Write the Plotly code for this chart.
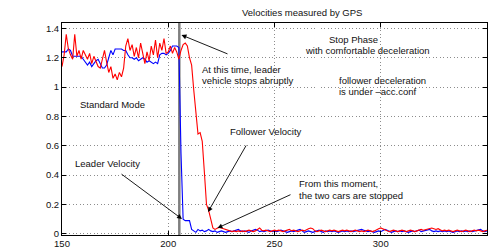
import plotly.graph_objects as go

# ---------------- data ----------------
time_s = list(range(150, 351))

leader_velocity = [
    # 150-159
    1.24, 1.24, 1.24, 1.26, 1.25, 1.21, 1.21, 1.21, 1.21, 1.21,
    # 160-169
    1.19, 1.17, 1.15, 1.17, 1.14, 1.16, 1.18, 1.19, 1.16, 1.13,
    # 170-179
    1.13, 1.15, 1.20, 1.25, 1.22, 1.26, 1.26, 1.26, 1.26, 1.25,
    # 180-189
    1.25, 1.22, 1.20, 1.20, 1.19, 1.20, 1.18, 1.19, 1.20, 1.19,
    # 190-199
    1.17, 1.18, 1.17, 1.16, 1.17, 1.16, 1.22, 1.23, 1.23, 1.22,
    # 200-210
    1.23, 1.25, 1.28, 1.28, 1.28, 1.27, 0.55, 0.10, 0.09, 0.09, 0.09,
    # 211-220
    0.03, 0.02, 0.01, 0.03, 0.02, 0.025, 0.015, 0.02, 0.03, 0.02,
    0.015, 0.02, 0.01, 0.015, 0.02, 0.015, 0.01, 0.015, 0.02, 0.015,
    0.02, 0.025, 0.03, 0.02, 0.015, 0.02, 0.015, 0.01, 0.02, 0.025,
    0.03, 0.025, 0.015, 0.02, 0.015, 0.02, 0.025, 0.02, 0.015, 0.02,
    0.015, 0.02, 0.025, 0.02, 0.015, 0.01, 0.015, 0.02, 0.015, 0.02,
    0.03, 0.03, 0.02, 0.01, 0.015, 0.02, 0.015, 0.01, 0.015, 0.02,
    0.025, 0.015, 0.01, 0.02, 0.015, 0.02, 0.015, 0.02, 0.015, 0.01,
    0.015, 0.02, 0.015, 0.02, 0.015, 0.02, 0.015, 0.02, 0.025, 0.03,
    0.03, 0.025, 0.02, 0.015, 0.02, 0.015, 0.01, 0.015, 0.02, 0.015,
    0.02, 0.03, 0.025, 0.015, 0.01, 0.015, 0.02, 0.015, 0.02, 0.015,
    0.02, 0.015, 0.01, 0.015, 0.02, 0.015, 0.02, 0.025, 0.015, 0.02,
    0.025, 0.03, 0.03, 0.02, 0.015, 0.02, 0.015, 0.02, 0.015, 0.02,
    0.015, 0.02, 0.015, 0.01, 0.015, 0.02, 0.015, 0.02, 0.015, 0.02,
    0.015, 0.02, 0.015, 0.02, 0.025, 0.03, 0.03, 0.02, 0.015, 0.02,
]

follower_velocity = [
    # 150-159
    1.14, 1.22, 1.36, 1.26, 1.22, 1.19, 1.36, 1.21, 1.25, 1.19,
    # 160-169
    1.25, 1.22, 1.19, 1.23, 1.16, 1.21, 1.17, 1.14, 1.13, 1.20,
    # 170-179
    1.25, 1.17, 1.10, 1.14, 1.06, 1.09, 1.05, 1.10, 1.07, 1.13,
    # 180-189
    1.28, 1.33, 1.25, 1.29, 1.21, 1.27, 1.20, 1.30, 1.22, 1.16,
    # 190-199
    1.24, 1.18, 1.28, 1.22, 1.32, 1.20, 1.30, 1.25, 1.33, 1.23,
    # 200-209
    1.24, 1.28, 1.23, 1.27, 1.24, 1.19, 1.25, 1.29, 1.30, 1.28,
    # 210-219
    1.20, 1.15, 0.98, 0.82, 0.68, 0.69, 0.63, 0.42, 0.20, 0.16,
    # 220-225
    0.10, 0.04, 0.03, 0.04, 0.045, 0.04,
    # 226-230
    0.035, 0.03, 0.025, 0.02, 0.015,
    0.02, 0.015, 0.02, 0.015, 0.02, 0.015, 0.02, 0.025, 0.02, 0.015,
    0.02, 0.03, 0.04, 0.025, 0.02, 0.025, 0.02, 0.015, 0.02, 0.025,
    0.02, 0.025, 0.02, 0.015, 0.02, 0.025, 0.03, 0.02, 0.025, 0.02,
    0.015, 0.02, 0.025, 0.02, 0.03, 0.035, 0.04, 0.035, 0.02, 0.015,
    0.02, 0.025, 0.02, 0.015, 0.02, 0.025, 0.02, 0.025, 0.02, 0.015,
    0.02, 0.025, 0.02, 0.025, 0.02, 0.015, 0.02, 0.025, 0.02, 0.015,
    0.02, 0.015, 0.02, 0.025, 0.02, 0.015, 0.02, 0.03, 0.035, 0.04,
    0.035, 0.025, 0.02, 0.015, 0.02, 0.025, 0.02, 0.015, 0.02, 0.025,
    0.02, 0.015, 0.02, 0.025, 0.02, 0.015, 0.02, 0.025, 0.03, 0.025,
    0.03, 0.035, 0.035, 0.04, 0.035, 0.03, 0.035, 0.025, 0.02, 0.025,
    0.02, 0.025, 0.02, 0.015, 0.02, 0.025, 0.02, 0.015, 0.02, 0.025,
    0.02, 0.015, 0.02, 0.025, 0.02, 0.025, 0.02, 0.015, 0.02, 0.025,
]

x_tick_values = [150, 200, 250, 300, 350]
x_tick_labels = ["150", "200", "250", "300", "350"]
y_tick_values = [0, 0.2, 0.4, 0.6, 0.8, 1.0, 1.2, 1.4]
y_tick_labels = ["0", "0.2", "0.4", "0.6", "0.8", "1", "1.2", "1.4"]

leader_stop_time = 205.2
title_text = "Velocities measured by GPS"

# ---------------- layout geometry ----------------
W, H = 493, 250
L, R, T, B = 62, 6, 23, 15
PW = W - L - R
PH = H - T - B
FONT = "Liberation Sans, Arial, Helvetica, sans-serif"


def px2paper(px, py):
    return (px - L) / PW, (H - B - py) / PH


fig = go.Figure()
fig.add_trace(go.Scatter(x=time_s, y=leader_velocity, mode="lines",
                         line=dict(color="#0000ff", width=1.1), name="Leader"))
fig.add_trace(go.Scatter(x=time_s, y=follower_velocity, mode="lines",
                         line=dict(color="#ff0000", width=1.1), name="Follower"))

fig.add_shape(type="line", xref="x", yref="paper", x0=leader_stop_time,
              x1=leader_stop_time, y0=0, y1=1,
              line=dict(color="#7f7f7f", width=2.5), layer="below")

annotations = []


def text(s, px, py, anchor="left", size=9.5):
    x, y = px2paper(px, py)
    annotations.append(dict(text=s, x=x, y=y, xref="paper", yref="paper",
                            xanchor=anchor, yanchor="middle", showarrow=False,
                            font=dict(family=FONT, size=size, color="#111")))


def arrow(tail, head):
    x, y = px2paper(*head)
    annotations.append(dict(text="", x=x, y=y, xref="paper", yref="paper",
                            ax=tail[0] - head[0], ay=tail[1] - head[1],
                            showarrow=True, arrowhead=2, arrowsize=1.1,
                            arrowwidth=0.9, arrowcolor="#000",
                            standoff=0, startstandoff=0))


text(title_text, 302, 13, anchor="center")
text("At this time, leader", 200, 69.5)
text("vehicle stops abruptly", 200, 80.5)
text("Stop Phase", 327, 39.5)
text("with comfortable deceleration", 303, 50.5)
text("Standard Mode", 78, 104)
text("follower deceleration", 337, 80)
text("is under \u2013acc.conf", 337, 91.5)
text("Follower Velocity", 228, 131)
text("Leader Velocity", 73, 163.5)
text("From this moment,", 297, 183.5)
text("the two cars are stopped", 297, 195)

arrow((229, 54.5), (181.5, 35))
arrow((247, 144), (208, 212))
arrow((120, 173), (182, 219))
arrow((292, 194), (217.5, 228))

axis_common = dict(showline=True, linecolor="#000", linewidth=1, mirror="ticks",
                   ticks="inside", ticklen=4, tickcolor="#000", tickwidth=1,
                   showgrid=True, gridcolor="#8c8c8c", gridwidth=1, griddash="1px,2.5px",
                   zeroline=False, tickfont=dict(family=FONT, size=9.5, color="#111"),
                   automargin=False)

fig.update_layout(
    width=W, height=H,
    margin=dict(l=L, r=R, t=T, b=B, pad=0),
    paper_bgcolor="white", plot_bgcolor="white",
    showlegend=False,
    annotations=annotations,
    xaxis=dict(range=[150, 350], tickvals=x_tick_values, ticktext=x_tick_labels,
               **axis_common),
    yaxis=dict(range=[-0.008, 1.437], tickvals=y_tick_values, ticktext=y_tick_labels,
               **axis_common),
)

fig.write_html(
    "out.html",
    config={"displayModeBar": False},
    post_script="document.body.style.margin='0px';document.body.style.overflow='hidden';",
)
